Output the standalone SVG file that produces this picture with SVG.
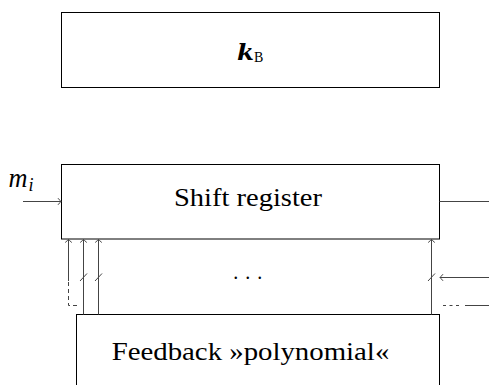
<svg xmlns="http://www.w3.org/2000/svg" width="489" height="385" viewBox="0 0 489 385">
<style>
.box{fill:#fff;stroke:#000;stroke-width:1}
.cn{fill:none;stroke:#444;stroke-width:1}
.lbl{font-family:"Liberation Serif","DejaVu Serif",serif;fill:#000}
</style>
<defs>
<marker id="ah" markerUnits="userSpaceOnUse" markerWidth="10" markerHeight="10" refX="0" refY="0" viewBox="-5 -5 10 10" orient="auto" overflow="visible">
<path d="M -3 -3.3 Q -0.8 -0.8 0 0 Q -0.8 0.8 -3 3.3" fill="none" stroke="#444" stroke-width="1"/>
</marker>
</defs>
<rect width="489" height="385" fill="#fff"/>
<g id="node-kb">
<rect class="box" x="61.5" y="12.5" width="378" height="75"/>
<text x="237" y="59.5" font-family="DejaVu Serif,serif" font-weight="bold" font-style="italic" font-size="22" textLength="17" lengthAdjust="spacingAndGlyphs" fill="#000">k</text>
<text class="lbl" x="254" y="61.7" font-size="14">B</text>
</g>
<g id="node-shift">
<rect class="box" x="61.5" y="164.5" width="378" height="74.5"/>
<text class="lbl" x="174" y="206" font-size="25" textLength="148" lengthAdjust="spacingAndGlyphs">Shift register</text>
</g>
<g id="node-feedback">
<rect class="box" x="76.5" y="314.5" width="363" height="90"/>
<text class="lbl" x="111.7" y="360" font-size="25" textLength="277.6" lengthAdjust="spacingAndGlyphs">Feedback »polynomial«</text>
</g>
<g id="ellipsis">
<text class="lbl" x="233.2" y="278.6" font-size="20" letter-spacing="7">...</text>
</g>
<g id="connectors">
<path class="cn" d="M 23 201.5 L 61 201.5" marker-end="url(#ah)"/>
<text class="lbl" x="8.5" y="187" font-size="27" font-style="italic" textLength="19" lengthAdjust="spacingAndGlyphs">m</text>
<text class="lbl" x="28.5" y="190.5" font-size="18" font-style="italic">i</text>
<path class="cn" d="M 439.5 201.5 L 489 201.5"/>
<path class="cn" d="M 68.5 281 L 68.5 239.5" marker-end="url(#ah)"/>
<path class="cn" d="M 77 305.5 L 68.5 305.5 L 68.5 281" stroke-dasharray="4 3"/>
<path class="cn" d="M 83.5 314.5 L 83.5 239.5" marker-end="url(#ah)"/>
<path class="cn" d="M 98.5 314.5 L 98.5 239.5" marker-end="url(#ah)"/>
<path class="cn" d="M 431.5 314.5 L 431.5 239.5" marker-end="url(#ah)"/>
<path class="cn" d="M 80 281 L 87 273.5 M 95 281 L 102 273.5 M 428 281 L 435 273.5"/>
<path class="cn" d="M 489 277.5 L 440 277.5" marker-end="url(#ah)"/>
<path class="cn" d="M 443 305.5 L 489 305.5" stroke-dasharray="3 3.5 3 3.5 3 6 30"/>
</g>
</svg>
